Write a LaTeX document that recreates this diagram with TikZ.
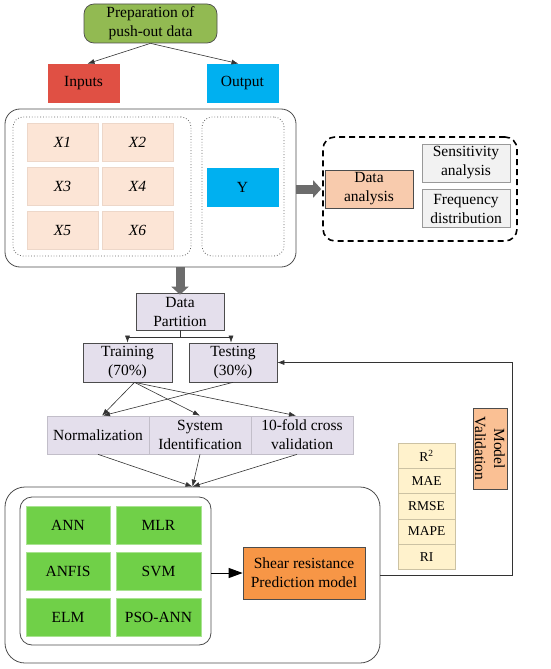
\documentclass[tikz,border=0pt]{standalone}
\usepackage{fontspec}
\setmainfont{Liberation Serif}
\usetikzlibrary{arrows.meta}
\definecolor{prepgreen}{RGB}{146,186,82}
\definecolor{inred}{RGB}{224,80,68}
\definecolor{outcyan}{RGB}{0,176,240}
\definecolor{peach}{RGB}{252,229,214}
\definecolor{dapeach}{RGB}{248,203,173}
\definecolor{lightgray}{RGB}{242,242,242}
\definecolor{lilac}{RGB}{228,223,236}
\definecolor{modelgreen}{RGB}{112,208,72}
\definecolor{shearorange}{RGB}{247,150,70}
\definecolor{mvorange}{RGB}{250,192,148}
\definecolor{metricyellow}{RGB}{255,242,204}

\begin{document}
\begin{tikzpicture}[x=1pt, y=-1pt, font=\fontsize{15.5}{19}\selectfont, cell/.style={inner sep=1pt, align=center, line width=0.7pt, minimum width=71pt, minimum height=38pt}, frame/.style={draw=black!70, line width=0.8pt}, group/.style={draw=black!60, dotted, line width=0.8pt, rounded corners=10pt}, arrow/.style={-{Latex[length=7pt,width=5pt]}, line width=0.6pt, draw=black!80}, bigarrow/.style={-{Triangle[length=8pt,width=17pt]}, line width=9pt, draw=gray!85!black}]
\useasboundingbox (0,0) rectangle (550,669);
% data preparation
\node[cell, draw=black!70, fill=prepgreen, rounded corners=10pt, minimum width=133pt, minimum height=39pt] (prep) at (150.5,23.5) {Preparation of\\push-out data};
\node[cell, draw=inred, fill=inred] (inputs) at (83.5,83) {Inputs};
\node[cell, draw=outcyan, fill=outcyan] (output) at (242.5,83) {Output};
\draw[arrow] (prep.south) -- ([xshift=4]inputs.north);\draw[arrow] (prep.south) -- ([xshift=-4]output.north);
\node[frame, rounded corners=15pt, minimum width=291pt, minimum height=158pt] (datain) at (150.5,188) {};
\node[group, minimum width=178pt, minimum height=139pt] (xgroup) at (102,186.5) {};
\node[group, minimum width=82pt, minimum height=139pt] (ygroup) at (243,186.5) {};
\node[cell, draw=peach!85!black!40!peach, fill=peach, font=\fontsize{15.5}{19}\selectfont\itshape] (x1) at (62.5,142.5) {X1};
\node[cell, draw=peach!85!black!40!peach, fill=peach, font=\fontsize{15.5}{19}\selectfont\itshape] (x2) at (137.5,142.5) {X2};
\node[cell, draw=peach!85!black!40!peach, fill=peach, font=\fontsize{15.5}{19}\selectfont\itshape] (x3) at (62.5,186.5) {X3};
\node[cell, draw=peach!85!black!40!peach, fill=peach, font=\fontsize{15.5}{19}\selectfont\itshape] (x4) at (137.5,186.5) {X4};
\node[cell, draw=peach!85!black!40!peach, fill=peach, font=\fontsize{15.5}{19}\selectfont\itshape] (x5) at (62.5,230) {X5};
\node[cell, draw=peach!85!black!40!peach, fill=peach, font=\fontsize{15.5}{19}\selectfont\itshape] (x6) at (137.5,230) {X6};
\node[cell, draw=outcyan, fill=outcyan] (y) at (242.5,187) {Y};
% data analysis
\node[draw, dashed, dash pattern=on 6pt off 4pt, line width=1.6pt, rounded corners=12pt, minimum width=194pt, minimum height=104pt] (analysis) at (420,189) {};
\node[cell, draw=black!70, fill=dapeach, minimum width=88pt] (da) at (369,189) {Data\\analysis};
\node[cell, draw=black!40, fill=lightgray, minimum width=88pt] (sens) at (466,163) {Sensitivity\\analysis};
\node[cell, draw=black!40, fill=lightgray, minimum width=88pt] (freq) at (466,208.5) {Frequency\\distribution};
\draw[bigarrow] (datain.east |- da) -- ([xshift=-1]analysis.west |- da);
% partition
\node[cell, draw=black!70, fill=lilac, minimum width=88pt, minimum height=37pt] (dp) at (180,311.5) {Data\\Partition};
\draw[bigarrow] (datain.south -| dp) -- ([yshift=-2]dp.north);
\node[cell, draw=black!70, fill=lilac, minimum width=89pt, minimum height=39pt] (train) at (127.5,362.5) {Training\\(70\%)};
\node[cell, draw=black!70, fill=lilac, minimum width=88pt, minimum height=39pt] (test) at (233,362.5) {Testing\\(30\%)};
\draw[arrow] (dp.south) -- ++(0,7) -| (train.north);\draw[arrow] (dp.south) -- ++(0,7) -| ([xshift=-2]test.north);
\node[cell, draw=lilac!85!black, fill=lilac, minimum width=102pt] (norm) at (98,435) {Normalization};
\node[cell, draw=lilac!85!black, fill=lilac, minimum width=102pt] (sysid) at (200,435) {System\\Identification};
\node[cell, draw=lilac!85!black, fill=lilac, minimum width=102pt] (tenfold) at (302,435) {10-fold cross\\validation};
\draw[arrow] ([xshift=7]train.south) -- ([xshift=4]norm.north);\draw[arrow] ([xshift=7]train.south) -- (sysid.north);\draw[arrow] ([xshift=7]train.south) -- ([xshift=-6]tenfold.north);
\draw[arrow] (test.south) -- ([xshift=5]norm.north);
% models
\node[frame, rounded corners=20pt, minimum width=375pt, minimum height=176pt] (bottom) at (192.5,575) {};
\draw[arrow] (norm.south) -- (bottom.north);\draw[arrow] (sysid.south) -- (bottom.north);\draw[arrow] ([xshift=-5]tenfold.south) -- (bottom.north);
\node[frame, rounded corners=12pt, minimum width=191pt, minimum height=148pt] (models) at (115.5,571) {};
\node[cell, draw=modelgreen!60!white, fill=modelgreen, minimum width=84pt] (ann) at (68,525) {ANN};
\node[cell, draw=modelgreen!60!white, fill=modelgreen, minimum width=85pt] (mlr) at (158.5,525) {MLR};
\node[cell, draw=modelgreen!60!white, fill=modelgreen, minimum width=84pt] (anfis) at (68,571) {ANFIS};
\node[cell, draw=modelgreen!60!white, fill=modelgreen, minimum width=85pt] (svm) at (158.5,571) {SVM};
\node[cell, draw=modelgreen!60!white, fill=modelgreen, minimum width=84pt] (elm) at (68,617.5) {ELM};
\node[cell, draw=modelgreen!60!white, fill=modelgreen, minimum width=85pt] (psoann) at (158.5,617.5) {PSO-ANN};
\node[cell, draw=black!70, fill=shearorange, minimum width=122pt, minimum height=52pt] (shear) at (304,573) {Shear resistance\\Prediction model};
\draw[-{Triangle[length=14pt,width=10pt]}, line width=1pt] (models.east |- shear) -- (shear.west);
% validation
\node[cell, draw=metricyellow!80!black, fill=metricyellow, minimum width=57pt, minimum height=25.3pt, font=\fontsize{13.5}{16}\selectfont] (r2) at (426.5,455.6) {R\textsuperscript{2}};
\node[cell, draw=metricyellow!80!black, fill=metricyellow, minimum width=57pt, minimum height=25.3pt, font=\fontsize{13.5}{16}\selectfont] (mae) at (426.5,480.9) {MAE};
\node[cell, draw=metricyellow!80!black, fill=metricyellow, minimum width=57pt, minimum height=25.3pt, font=\fontsize{13.5}{16}\selectfont] (rmse) at (426.5,506.2) {RMSE};
\node[cell, draw=metricyellow!80!black, fill=metricyellow, minimum width=57pt, minimum height=25.3pt, font=\fontsize{13.5}{16}\selectfont] (mape) at (426.5,531.5) {MAPE};
\node[cell, draw=metricyellow!80!black, fill=metricyellow, minimum width=57pt, minimum height=25.3pt, font=\fontsize{13.5}{16}\selectfont] (ri) at (426.5,556.8) {RI};
\node[cell, draw=black!70, fill=mvorange, rotate=-90, minimum width=81pt, minimum height=34pt] (mv) at (490,448.5) {Model\\Validation};
\coordinate (mvcorner) at (512,575);
\draw[arrow] (bottom.east) -- (mvcorner) |- (test.east);
\end{tikzpicture}
\end{document}
